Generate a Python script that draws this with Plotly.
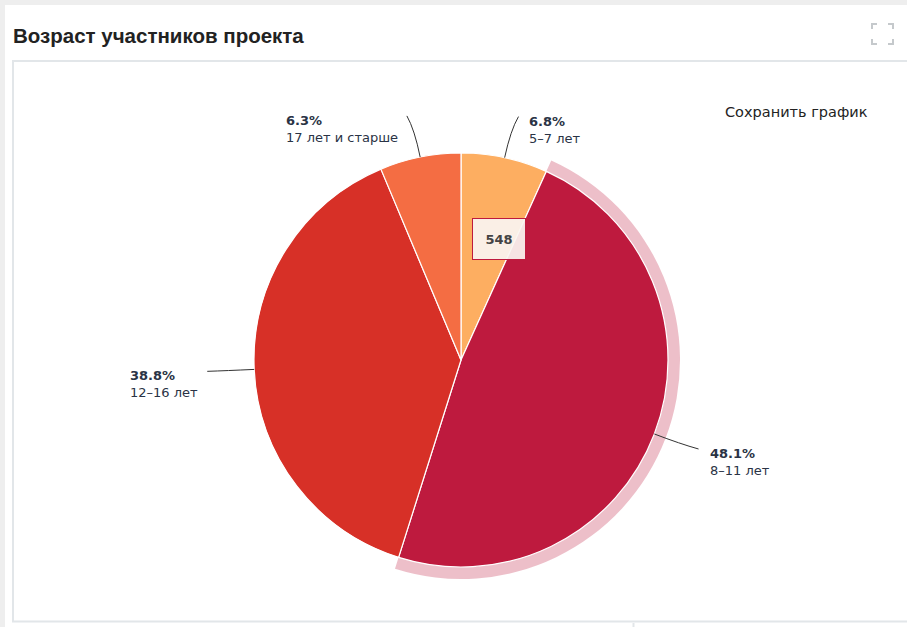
import math
import plotly.graph_objects as go

# Age groups of project participants (counts)
categories = ["5–7 лет", "8–11 лет", "12–16 лет", "17 лет и старше"]
counts = [77, 548, 442, 72]
colors = ["#FDAE61", "#BE1A3E", "#D73027", "#F46D43"]
highlighted = 1  # slice shown with hover halo and tooltip

W, H = 907, 627
CX, CY, R = 461, 360, 207   # pie centre and radius, px
HALO = 12                   # halo thickness, px


def px(x):
    return x / W


def py(y):
    return 1 - y / H


total = sum(counts)
shares = [c / total for c in counts]

fig = go.Figure()

# hover halo behind the highlighted slice
halo_colors = ["rgba(0,0,0,0)"] * len(counts)
halo_colors[highlighted] = "rgba(190,26,62,0.28)"
RH = R + HALO
fig.add_trace(go.Pie(
    labels=categories, values=counts, sort=False, direction="clockwise", rotation=0,
    marker=dict(colors=halo_colors, line=dict(width=0)),
    textinfo="none", hoverinfo="skip", showlegend=False,
    domain=dict(x=[px(CX - RH), px(CX + RH)], y=[py(CY + RH), py(CY - RH)]),
))

# main pie
fig.add_trace(go.Pie(
    labels=categories, values=counts, sort=False, direction="clockwise", rotation=0,
    marker=dict(colors=colors, line=dict(color="white", width=1.2)),
    textinfo="none", hoverinfo="skip", showlegend=False,
    domain=dict(x=[px(CX - R), px(CX + R)], y=[py(CY + R), py(CY - R)]),
))

shapes = []
annotations = []

# outside labels with soft connectors
start = 0.0
for i, (cat, s) in enumerate(zip(categories, shares)):
    mid = (start + s / 2) * 2 * math.pi
    start += s
    sx, sy = math.sin(mid), -math.cos(mid)
    right = sx >= 0
    p0 = (CX + R * sx, CY + R * sy)
    pc = (CX + (R + 28) * sx, CY + (R + 28) * sy)
    p1 = (CX + (R + 42) * sx + (5 if right else -5), CY + (R + 42) * sy)
    path = (f"M {px(p0[0])},{py(p0[1])} Q {px(pc[0])},{py(pc[1])} "
            f"{px(p1[0])},{py(p1[1])}")
    shapes.append(dict(type="path", xref="paper", yref="paper", path=path,
                       line=dict(color="#333333", width=1)))
    lx = p1[0] + (9 if right else -7)
    annotations.append(dict(
        x=px(lx), y=py(p1[1] - 5), xref="paper", yref="paper",
        xanchor="left" if right else "right", yanchor="top", align="left",
        showarrow=False,
        text=f"<b>{s * 100:.1f}%</b><br>{cat}",
        font=dict(family="DejaVu Sans", size=13, color="#2a3345"),
    ))

# tooltip of the highlighted slice
annotations.append(dict(
    x=px(499), y=py(239), xref="paper", yref="paper", showarrow=False,
    text=f"<b>{counts[highlighted]}</b>",
    font=dict(family="DejaVu Sans", size=13, color="#444444"),
    bgcolor="rgba(250,244,240,0.93)", bordercolor="#BE1A3E", borderwidth=1,
    borderpad=4, width=44, height=32,
))

# title and export link
annotations.append(dict(
    x=px(11), y=py(35), xref="paper", yref="paper", xanchor="left", yanchor="middle",
    showarrow=False, text="<b>Возраст участников проекта</b>",
    font=dict(family="Liberation Sans", size=20.5, color="#222222"),
))
annotations.append(dict(
    x=px(796), y=py(112), xref="paper", yref="paper", xanchor="center", yanchor="middle",
    showarrow=False, text="Сохранить график",
    font=dict(family="DejaVu Sans", size=14.5, color="#222222"),
))

# card frame
shapes += [
    dict(type="rect", xref="paper", yref="paper", x0=0, x1=1, y0=py(5), y1=1,
         fillcolor="#EEEEEE", line=dict(width=0), layer="below"),
    dict(type="rect", xref="paper", yref="paper", x0=0, x1=px(5), y0=0, y1=1,
         fillcolor="#EEEEEE", line=dict(width=0), layer="below"),
    dict(type="rect", xref="paper", yref="paper", x0=px(13), x1=px(915),
         y0=py(621.5), y1=py(61), line=dict(color="#E2E6E9", width=2), layer="below"),
    dict(type="line", xref="paper", yref="paper", x0=px(633.5), x1=px(633.5),
         y0=py(623), y1=0, line=dict(color="#E2E6E9", width=2), layer="below"),
]

# fullscreen icon corners
ix0, iy0, ix1, iy1, k = 872, 24, 893, 44, 5
for (x, y, dx, dy) in [(ix0, iy0, 1, 1), (ix1, iy0, -1, 1), (ix0, iy1, 1, -1), (ix1, iy1, -1, -1)]:
    path = (f"M {px(x)},{py(y + dy * k)} L {px(x)},{py(y)} L {px(x + dx * k)},{py(y)}")
    shapes.append(dict(type="path", xref="paper", yref="paper", path=path,
                       line=dict(color="#C5C9CC", width=2)))

fig.update_layout(
    width=W, height=H, autosize=False,
    margin=dict(l=0, r=0, t=0, b=0),
    paper_bgcolor="white", plot_bgcolor="white",
    shapes=shapes, annotations=annotations,
)

fig.write_html("out.html", config={"displayModeBar": False})
